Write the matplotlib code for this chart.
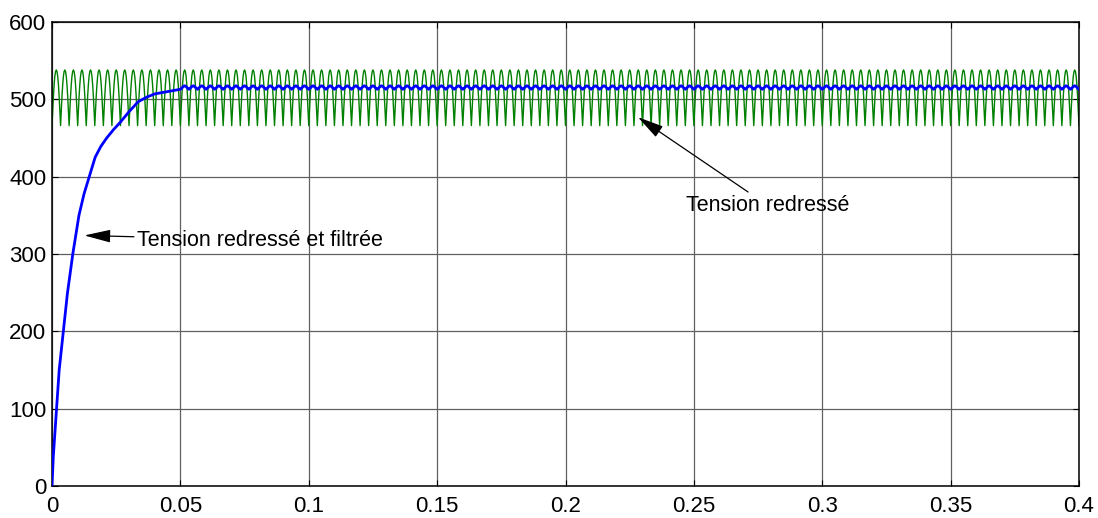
import numpy as np
import matplotlib
matplotlib.use("Agg")
import matplotlib.pyplot as plt
from matplotlib import font_manager

# ---- data -------------------------------------------------------------
T_END = 0.4
RIPPLE_PERIOD = 1 / 300          # 6-pulse bridge on 50 Hz mains

# rectified voltage over one ripple period (V), cusp to cusp
green_cycle = [466, 486, 504, 519, 530, 536, 538, 536, 530, 519, 504, 486]

# build-up of the filtered voltage (s, V)
blue_rise_t = [0, 0.0005, 0.0012, 0.0018, 0.0028, 0.0044, 0.006, 0.0081, 0.0105,
               0.0125, 0.0145, 0.0168, 0.019, 0.0213, 0.024, 0.0265, 0.03,
               0.0336, 0.037, 0.04, 0.045, 0.05]
blue_rise_v = [0, 38, 72, 100, 150, 200, 249, 300, 350,
               378, 400, 425, 439, 450, 461, 470, 484,
               497, 503, 507, 510, 513]

# residual ripple of the filtered voltage over one period (V)
blue_cycle = [513, 514, 515.5, 517, 517.5, 517, 515.5, 514]

x_ticks = [0, 0.05, 0.1, 0.15, 0.2, 0.25, 0.3, 0.35, 0.4]
x_tick_labels = ["0", "0.05", "0.1", "0.15", "0.2", "0.25", "0.3", "0.35", "0.4"]
y_ticks = [0, 100, 200, 300, 400, 500, 600]
y_tick_labels = ["0", "100", "200", "300", "400", "500", "600"]

# ---- waveforms ---------------------------------------------------------
n_cycles = int(round(T_END / RIPPLE_PERIOD))
g_n = len(green_cycle)
green_v = np.append(np.tile(green_cycle, n_cycles), green_cycle[0])
green_t = np.arange(len(green_v)) * RIPPLE_PERIOD / g_n

b_n = len(blue_cycle)
start_cycle = int(round(blue_rise_t[-1] / RIPPLE_PERIOD))
steady_v = np.append(np.tile(blue_cycle, n_cycles - start_cycle), blue_cycle[0])
steady_t = blue_rise_t[-1] + np.arange(len(steady_v)) * RIPPLE_PERIOD / b_n
blue_t = np.concatenate([blue_rise_t[:-1], steady_t])
blue_v = np.concatenate([blue_rise_v[:-1], steady_v])

# ---- fonts ---------------------------------------------------------------
installed = {f.name for f in font_manager.fontManager.ttflist}
families = [f for f in ["Liberation Sans Narrow", "Arial Narrow", "Liberation Sans",
                        "DejaVu Sans"] if f in installed]
narrow = families[0] in ("Liberation Sans Narrow", "Arial Narrow")
FS_TICK = 19 if narrow else 16
FS_NOTE = 19 if narrow else 15.5
plt.rcParams["font.family"] = families

# ---- figure ---------------------------------------------------------------
fig = plt.figure(figsize=(10.98, 5.18), dpi=100)
ax = fig.add_axes([52 / 1098, 1 - 486 / 518, (1079 - 52) / 1098, (486 - 22) / 518])

ax.plot(green_t, green_v, color="#008000", lw=1.0, zorder=2)
ax.plot(blue_t, blue_v, color="#0000ff", lw=2.0, zorder=3)

ax.set_xlim(0, T_END)
ax.set_ylim(0, 600)
ax.set_xticks(x_ticks)
ax.set_xticklabels(x_tick_labels)
ax.set_yticks(y_ticks)
ax.set_yticklabels(y_tick_labels)

ax.grid(True, color="#606060", lw=0.9, ls="-", zorder=1)
ax.set_axisbelow(True)
ax.tick_params(direction="in", top=True, right=True, length=4, width=0.8,
               labelsize=FS_TICK, colors="black")
ax.tick_params(axis="x", pad=7)
ax.tick_params(axis="y", pad=4)
for s in ax.spines.values():
    s.set_linewidth(1.1)
    s.set_color("black")

arrow = dict(arrowstyle="-|>,head_length=0.9,head_width=0.22", color="black",
             lw=0.9, mutation_scale=18, shrinkA=0, shrinkB=0)
ax.annotate("Tension redressé et filtrée", xy=(0.0126, 324), xytext=(0.0330, 318),
            fontsize=FS_NOTE, va="center", ha="left", arrowprops=arrow, zorder=5)
ax.annotate("Tension redressé", xy=(0.2282, 477), xytext=(0.2469, 363),
            fontsize=FS_NOTE, va="center", ha="left", arrowprops=arrow, zorder=5)

fig.savefig("out.png", dpi=100)
